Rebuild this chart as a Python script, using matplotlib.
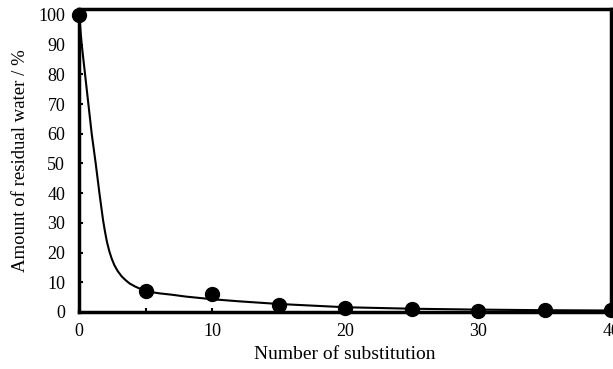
import matplotlib
matplotlib.use("Agg")
import matplotlib.pyplot as plt

# measured points
n_sub = [0, 5, 10, 15, 20, 25, 30, 35, 40]
residual = [100, 7.0, 6.0, 2.5, 1.5, 1.0, 0.3, 0.7, 0.8]

# fitted curve
curve_x = [0, 0.2, 0.45, 0.7, 0.95, 1.25, 1.53, 1.8, 1.95, 2.1, 2.27, 2.45, 2.65, 2.9,
           3.2, 3.5, 3.8, 4.2, 4.6, 5.0, 6.0, 7.0, 8.0, 10.0, 12.0, 15.0, 20.0, 25.0,
           30.0, 35.0, 40.0]
curve_y = [100, 90, 80, 70, 60, 50, 40, 31, 27, 23.5, 20.5, 18, 15.8, 13.8,
           12.0, 10.7, 9.6, 8.6, 7.8, 7.0, 6.3, 5.8, 5.2, 4.3, 3.6, 2.7, 1.6, 1.1,
           0.8, 0.6, 0.5]

plt.rcParams['font.family'] = ['Liberation Serif', 'DejaVu Serif']

fig = plt.figure(figsize=(6.13, 3.69), dpi=100)
ax = fig.add_axes([0.129, 0.1545, 0.868, 0.821])

ax.plot(curve_x, curve_y, color='black', linewidth=1.5, zorder=3)
ax.plot(n_sub, residual, 'o', color='black', markersize=10, zorder=4, clip_on=False)

ax.set_xlim(0, 40)
ax.set_ylim(0, 102)
ax.set_xticks([0, 10, 20, 30, 40])
ax.set_xticks([5, 15, 25, 35], minor=True)
ax.set_yticks(range(0, 101, 10))
ax.tick_params(axis='both', which='both', direction='in', length=3, width=1.5, labelsize=13)
ax.tick_params(axis='x', pad=8)
ax.tick_params(axis='y', pad=10)
for s in ax.spines.values():
    s.set_linewidth(2.5)

ax.set_xlabel('Number of substitution', fontsize=14, labelpad=4)
ax.set_ylabel('Amount of residual water / %', fontsize=13.5, labelpad=7)

fig.savefig('out.png', dpi=100)
